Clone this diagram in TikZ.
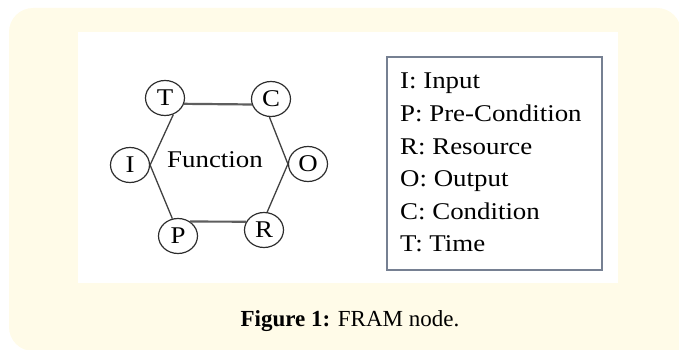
\documentclass[tikz,border=0pt]{standalone}
\usepackage{fontspec}
\usetikzlibrary{shapes.geometric}
\newfontfamily\figfont[FakeStretch=1.12]{Liberation Serif}
\newfontfamily\capfont{Liberation Serif}
\definecolor{cream}{RGB}{255,251,232}
\definecolor{legendedge}{RGB}{118,128,146}
\definecolor{ringcol}{RGB}{45,45,45}
\definecolor{linecol}{RGB}{65,65,65}
\tikzset{
  port/.style={ellipse, draw=ringcol, line width=1.2pt, fill=white,
    minimum width=39pt, minimum height=35pt, inner sep=0pt,
    font=\figfont\fontsize{24}{26}\selectfont},
  edgeline/.style={draw=linecol, line width=1.3pt},
  flatline/.style={draw=linecol!85, line width=2.2pt},
  legendline/.style={anchor=base west, inner sep=0pt,
    font=\figfont\fontsize{24}{26}\selectfont},
}
\begin{document}
\begin{tikzpicture}[x=1pt, y=-1pt]
\useasboundingbox (0,0) rectangle (679,350);
% background panel
\fill[cream, rounded corners=24pt] (9,8) rectangle (681,351);
\fill[cream] (400,200) rectangle (690,360);
\fill[white] (78,32) rectangle (618,283);
% ports
\node[port] (T) at (165,98) {T};
\node[port] (C) at (271,99) {C};
\node[port] (I) at (130,165) {I};
\node[port] (O) at (308,164) {O};
\node[port] (P) at (178,236) {P};
\node[port] (R) at (264,230) {R};
\node[anchor=base west, inner sep=0pt, font=\figfont\fontsize{24}{26}\selectfont] (F) at (167,167) {Function};
% hexagon edges
\draw[flatline] (T.-17) -- (C.-164);
\draw[flatline] (P.50) -- (R.155);
\draw[edgeline] (T.-63) -- (I.east);
\draw[edgeline] (I.east) -- (P.108);
\draw[edgeline] (C.-95) -- (O.west);
\draw[edgeline] (O.west) -- (R.80);
% legend
\node[draw=legendedge, line width=1.6pt, minimum width=215pt, minimum height=213pt, inner sep=0pt] (legend) at (494.5,163.5) {};
\node[legendline] (l1) at (400,89) {I: Input};
\node[legendline] (l2) at (400,121.5) {P: Pre-Condition};
\node[legendline] (l3) at (400,154) {R: Resource};
\node[legendline] (l4) at (400,186.5) {O: Output};
\node[legendline] (l5) at (400,219) {C: Condition};
\node[legendline] (l6) at (400,251.5) {T: Time};
% caption
\node[anchor=base, inner sep=0pt, font=\capfont\fontsize{23}{25}\selectfont] (cap) at (350,326) {\textbf{Figure 1:} FRAM node.};
\end{tikzpicture}
\end{document}
